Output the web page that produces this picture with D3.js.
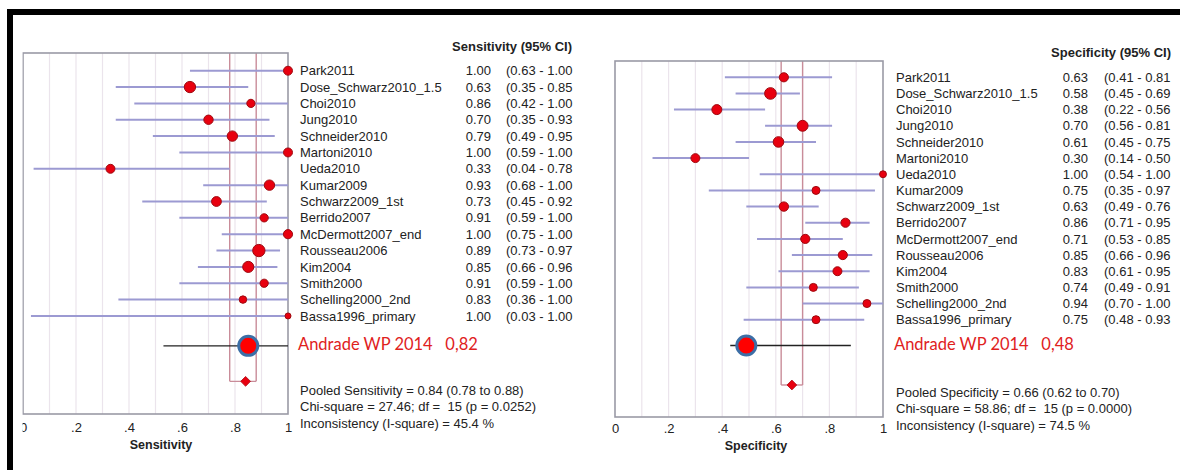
<!DOCTYPE html>
<html>
<head>
<meta charset="utf-8">
<script src="https://cdn.jsdelivr.net/npm/d3@7"></script>
<style>
  body { margin: 0; background: #fff; }
  svg text { font-family: "Liberation Sans", Arial, sans-serif; fill: #222; white-space: pre; }
  .andrade { font-family: Lato, "Open Sans", sans-serif; fill: #e0211d; font-size: 16.5px; }
</style>
</head>
<body>
<div id="chart"></div>
<script>
// study names, shared by both panels
var studies = ["Park2011", "Dose_Schwarz2010_1.5", "Choi2010", "Jung2010", "Schneider2010",
  "Martoni2010", "Ueda2010", "Kumar2009", "Schwarz2009_1st", "Berrido2007",
  "McDermott2007_end", "Rousseau2006", "Kim2004", "Smith2000", "Schelling2000_2nd", "Bassa1996_primary"];

// sensitivity per study
var sensValue = [1.00, 0.63, 0.86, 0.70, 0.79, 1.00, 0.33, 0.93, 0.73, 0.91, 1.00, 0.89, 0.85, 0.91, 0.83, 1.00];
var sensLow   = [0.63, 0.35, 0.42, 0.35, 0.49, 0.59, 0.04, 0.68, 0.45, 0.59, 0.75, 0.73, 0.66, 0.59, 0.36, 0.03];
var sensHigh  = [1.00, 0.85, 1.00, 0.93, 0.95, 1.00, 0.78, 1.00, 0.92, 1.00, 1.00, 0.97, 0.96, 1.00, 1.00, 1.00];
var sensWeight = [20, 32, 17, 22, 27, 20, 20, 27, 24, 17, 21, 38, 31, 17, 14, 9];

// specificity per study
var specValue = [0.63, 0.58, 0.38, 0.70, 0.61, 0.30, 1.00, 0.75, 0.63, 0.86, 0.71, 0.85, 0.83, 0.74, 0.94, 0.75];
var specLow   = [0.41, 0.45, 0.22, 0.56, 0.45, 0.14, 0.54, 0.35, 0.49, 0.71, 0.53, 0.66, 0.61, 0.49, 0.70, 0.48];
var specHigh  = [0.81, 0.69, 0.56, 0.81, 0.75, 0.50, 1.00, 0.97, 0.76, 0.95, 0.85, 0.96, 0.95, 0.91, 1.00, 0.93];
var specWeight = [21, 34, 25, 30, 28, 20, 12, 16, 22, 21, 21, 21, 20, 16, 16, 16];

// pooled estimates [estimate, low, high]
var sensPooled = [0.84, 0.78, 0.88];
var specPooled = [0.66, 0.62, 0.70];

// Andrade WP 2014 [estimate, low, high] and its label
var sensAndrade = [0.85, 0.53, 1.00];
var specAndrade = [0.49, 0.43, 0.88];
var sensAndradeLabel = "Andrade WP 2014   0,82";
var specAndradeLabel = "Andrade WP 2014   0,48";

// summary statistics text
var sensStats = ["Pooled Sensitivity = 0.84 (0.78 to 0.88)", "Chi-square = 27.46; df =  15 (p = 0.0252)", "Inconsistency (I-square) = 45.4 %"];
var specStats = ["Pooled Specificity = 0.66 (0.62 to 0.70)", "Chi-square = 58.86; df =  15 (p = 0.0000)", "Inconsistency (I-square) = 74.5 %"];

var tickValues = [0, 0.2, 0.4, 0.6, 0.8, 1];
var tickLabels = ["0", ".2", ".4", ".6", ".8", "1"];


var svg = d3.select("#chart").append("svg")
  .attr("width", 1180)
  .attr("height", 470);

// clip for the left panel (the original picture is cropped on the left)
svg.append("clipPath").attr("id", "leftclip")
  .append("rect").attr("x", 22.5).attr("y", 0).attr("width", 580).attr("height", 470);

var rScale = d3.scaleSqrt().domain([0, 36]).range([0, 6]);

function drawPanel(g, p) {
  var x = d3.scaleLinear().domain([0, 1]).range([p.x0, p.x1]);
  // row index -> y; Andrade sits at p.andradeRow, pooled diamond at p.pooledRow
  var y = d3.scaleLinear().domain([0, 1]).range([p.rowY0, p.rowY0 + p.rowStep]);

  // grid lines every 0.1
  g.selectAll(".grid")
    .data(d3.range(1, 10).map(function(i) { return i / 10; }))
    .enter().append("line")
    .attr("x1", function(d) { return x(d); })
    .attr("x2", function(d) { return x(d); })
    .attr("y1", p.top).attr("y2", p.bottom)
    .style("stroke", "#ebe4ec").style("stroke-width", 1.2);

  // pooled CI band lines
  var pooledY = y(p.pooledRow);
  [p.pooled[1], p.pooled[2]].forEach(function(v) {
    g.append("line")
      .attr("x1", x(v)).attr("x2", x(v))
      .attr("y1", p.top).attr("y2", pooledY)
      .style("stroke", "#c98c99").style("stroke-width", 1.4);
  });
  g.append("line")
    .attr("x1", x(p.pooled[1])).attr("x2", x(p.pooled[2]))
    .attr("y1", pooledY).attr("y2", pooledY)
    .style("stroke", "#c98c99").style("stroke-width", 1.4);

  // frame
  g.append("rect")
    .attr("x", p.x0).attr("y", p.top)
    .attr("width", p.x1 - p.x0).attr("height", p.bottom - p.top)
    .style("fill", "none").style("stroke", "#9a9aa6").style("stroke-width", 1.6);

  // study CIs
  g.selectAll(".ci")
    .data(studies)
    .enter().append("line")
    .attr("x1", function(d, i) { return x(p.low[i]); })
    .attr("x2", function(d, i) { return x(p.high[i]); })
    .attr("y1", function(d, i) { return y(i); })
    .attr("y2", function(d, i) { return y(i); })
    .style("stroke", "#9c9ad2").style("stroke-width", 2);

  // study points
  g.selectAll(".pt")
    .data(studies)
    .enter().append("circle")
    .attr("cx", function(d, i) { return x(p.value[i]); })
    .attr("cy", function(d, i) { return y(i); })
    .attr("r", function(d, i) { return rScale(p.weight[i]); })
    .style("fill", "#e8000f").style("stroke", "#9e0a10").style("stroke-width", 1);

  // Andrade line + big dot
  var ay = y(p.andradeRow);
  g.append("line")
    .attr("x1", x(p.andrade[1])).attr("x2", x(p.andrade[2]))
    .attr("y1", ay).attr("y2", ay)
    .style("stroke", "#222").style("stroke-width", 1.4);
  g.append("circle")
    .attr("cx", x(p.andrade[0])).attr("cy", ay).attr("r", 9.5)
    .style("fill", "#ff0000").style("stroke", "#3c6ea6").style("stroke-width", 3);

  // pooled diamond (a square turned 45 degrees)
  g.append("path")
    .attr("d", d3.symbol().type(d3.symbolSquare).size(48)())
    .attr("transform", "translate(" + x(p.pooled[0]) + "," + pooledY + ") rotate(45)")
    .style("fill", "#e8000f").style("stroke", "#b0101a").style("stroke-width", 0.8);

  // axis
  var axis = d3.axisBottom(x)
    .tickValues(tickValues)
    .tickSize(0)
    .tickFormat(function(d, i) { return tickLabels[i]; });
  var ax = g.append("g")
    .attr("transform", "translate(0," + p.tickY + ")")
    .call(axis);
  ax.select(".domain").remove();
  ax.selectAll("text")
    .attr("dy", 0).attr("y", 0)
    .style("font-size", "13px").style("fill", "#222");

  g.append("text")
    .attr("x", p.titleX).attr("y", p.titleY)
    .attr("text-anchor", "middle")
    .style("font-size", "12.5px").style("font-weight", "bold")
    .text(p.title);

  // table header
  g.append("text")
    .attr("x", p.ciEnd).attr("y", p.headerY)
    .attr("text-anchor", "end")
    .style("font-size", "13px").style("font-weight", "bold")
    .text(p.header);

  // table rows
  var rows = g.selectAll(".row")
    .data(studies)
    .enter().append("g")
    .attr("transform", function(d, i) { return "translate(0," + (y(i) + 4.6) + ")"; });
  rows.append("text")
    .attr("x", p.nameX)
    .style("font-size", "13px")
    .text(function(d) { return d; });
  rows.append("text")
    .attr("x", p.valueX).attr("text-anchor", "end")
    .style("font-size", "13px")
    .text(function(d, i) { return p.value[i].toFixed(2); });
  rows.append("text")
    .attr("x", p.ciX)
    .style("font-size", "13px")
    .text(function(d, i) { return "(" + p.low[i].toFixed(2) + " - " + p.high[i].toFixed(2); });

  g.append("text")
    .attr("class", "andrade")
    .attr("x", p.nameX - 2).attr("y", ay + 4)
    .text(p.andradeLabel);

  g.selectAll(".stat")
    .data(p.stats)
    .enter().append("text")
    .attr("x", p.nameX)
    .attr("y", function(d, i) { return p.statsY + i * 16.4; })
    .style("font-size", "13px")
    .text(function(d) { return d; });
}

var left = svg.append("g").attr("clip-path", "url(#leftclip)");
drawPanel(left, {
  x0: 23, x1: 288, top: 53, bottom: 414, rowY0: 70.7, rowStep: 16.35,
  andradeRow: 16.83, pooledRow: 19,
  value: sensValue, low: sensLow, high: sensHigh, weight: sensWeight,
  pooled: sensPooled, andrade: sensAndrade, andradeLabel: sensAndradeLabel, stats: sensStats,
  tickY: 432, title: "Sensitivity", titleX: 161, titleY: 449,
  header: "Sensitivity (95% CI)", headerY: 51,
  nameX: 300, valueX: 491, ciX: 506, ciEnd: 572, statsY: 395
});

drawPanel(svg.append("g"), {
  x0: 615, x1: 883, top: 61, bottom: 417, rowY0: 77.3, rowStep: 16.16,
  andradeRow: 16.6, pooledRow: 19.04,
  value: specValue, low: specLow, high: specHigh, weight: specWeight,
  pooled: specPooled, andrade: specAndrade, andradeLabel: specAndradeLabel, stats: specStats,
  tickY: 433, title: "Specificity", titleX: 756, titleY: 450,
  header: "Specificity (95% CI)", headerY: 57,
  nameX: 896, valueX: 1088, ciX: 1104, ciEnd: 1171, statsY: 397
});

// black frame of the original picture (top and left)
svg.append("rect").attr("x", 7).attr("y", 9).attr("width", 1173).attr("height", 6).style("fill", "#000");
svg.append("rect").attr("x", 7).attr("y", 9).attr("width", 6).attr("height", 461).style("fill", "#000");
</script>
</body>
</html>
